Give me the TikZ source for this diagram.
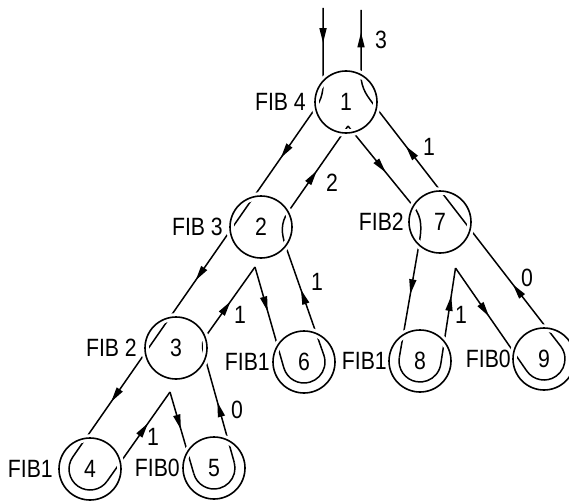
\documentclass[tikz,border=0pt]{standalone}
\usepackage{fontspec}
\setmainfont{Liberation Sans}[FakeStretch=0.85]
\usetikzlibrary{arrows.meta,decorations.markings,calc}
\pgfdeclarelayer{bg}
\pgfsetlayers{bg,main}
\begin{document}
\begin{tikzpicture}[x=1pt,y=1pt,
  every node/.style={font=\fontsize{25}{25}\selectfont, inner sep=0pt},
  circ/.style={circle, draw, line width=1.6pt, minimum size=62pt, inner sep=0pt,
               preaction={draw=white, line width=7.5pt}},
  fib/.style={anchor=east},
  wire/.style={line width=1.5pt},
  midarrow/.style={postaction={decorate, decoration={markings,
      mark=at position #1 with {\arrow{Triangle[length=15pt,width=7pt]}}}}}
]
\useasboundingbox (0,0) rectangle (569,-500);

% recursion nodes
\node[circ] (n1) at (346,-102) {1};
\node[circ] (n2) at (261,-227) {2};
\node[circ] (n7) at (440,-222) {7};
\node[circ] (n3) at (176,-348) {3};
\node[circ] (n6) at (304,-362) {6};
\node[circ] (n8) at (420,-361) {8};
\node[circ] (n9) at (544,-359) {9};
\node[circ] (n4) at (90,-469) {4};
\node[circ] (n5) at (214,-468) {5};

% free ends and junctions
\coordinate (topL) at (323,-8);
\coordinate (topR) at (361,-10);
\coordinate (a1) at (348,-126);
\coordinate (a2) at (255,-267);
\coordinate (a3) at (170,-392);
\coordinate (a7) at (455.5,-268);

\begin{pgfonlayer}{bg}
\begin{scope}[wire]
% call chain down the left spine
\draw[midarrow=0.48] (topL) -- ($(n1)+(137.6:31)$);
\draw ($(n1)+(137.6:31)$) to[out=-90,in=55.2] ($(n1)+(191:31)$);
\draw[midarrow=0.143, midarrow=0.494, midarrow=0.842] ($(n1)+(191:31)$) -- ($(n4)+(145:21)$);
\draw ($(n4)+(145:21)$) arc[start angle=145, end angle=325, radius=21];
\draw[midarrow=0.65] ($(n4)+(325:21)$) -- (a3);
\draw[midarrow=0.46] (a3) -- ($(n5)+(195.2:21)$);
\draw ($(n5)+(195.2:21)$) arc[start angle=195.2, end angle=375.5, radius=21];
\draw[midarrow=0.58] ($(n5)+(15.5:21)$) -- ($(n3)+(-19.5:31)$);
\draw ($(n3)+(-19.5:31)$) to[out=105.6,in=234.5] ($(n3)+(20.4:31)$);
\draw[midarrow=0.51] ($(n3)+(20.4:31)$) -- (a2);
\draw[midarrow=0.44] (a2) -- ($(n6)+(196.3:21)$);
\draw ($(n6)+(196.3:21)$) arc[start angle=196.3, end angle=379.3, radius=21];
\draw[midarrow=0.60] ($(n6)+(19.3:21)$) -- ($(n2)+(-37.5:31)$);
\draw ($(n2)+(-37.5:31)$) to[out=109.3,in=235.1] ($(n2)+(29.1:31)$);
\draw[midarrow=0.48] ($(n2)+(29.1:31)$) -- (a1);
% right subtree
\draw[midarrow=0.58] (a1) -- ($(n7)+(149.4:31)$);
\draw ($(n7)+(149.4:31)$) to[out=309.2,in=80.1] ($(n7)+(227.1:31)$);
\draw[midarrow=0.44] ($(n7)+(227.1:31)$) -- ($(n8)+(170.1:21)$);
\draw ($(n8)+(170.1:21)$) arc[start angle=170.1, end angle=351.3, radius=21];
\draw[midarrow=0.71] ($(n8)+(351.3:21)$) -- (a7);
\draw[midarrow=0.47] (a7) -- ($(n9)+(214.7:21)$);
\draw ($(n9)+(214.7:21)$) arc[start angle=214.7, end angle=397.7, radius=21];
\draw[midarrow=0.259, midarrow=0.840] ($(n9)+(37.7:21)$) -- ($(n1)+(348.8:31)$);
\draw ($(n1)+(348.8:31)$) to[out=127.7,in=-90] ($(n1)+(61:31)$);
\draw[midarrow=0.655] ($(n1)+(61:31)$) -- (topR);
\end{scope}
\end{pgfonlayer}

% FIB labels
\node[fib] (f1) at ($(n1)+(-40,0)$) {FIB 4};
\node[fib] (f2) at ($(n2)+(-38,0)$) {FIB 3};
\node[fib] (f7) at ($(n7)+(-36,0)$) {FIB2};
\node[fib] (f3) at ($(n3)+(-39,0)$) {FIB 2};
\node[fib] (f6) at ($(n6)+(-34,0)$) {FIB1};
\node[fib] (f8) at ($(n8)+(-33,0)$) {FIB1};
\node[fib] (f9) at ($(n9)+(-33,0)$) {FIB0};
\node[fib] (f4) at ($(n4)+(-37,0)$) {FIB1};
\node[fib] (f5) at ($(n5)+(-34,0)$) {FIB0};

% returned values
\node (r1) at (381,-40) {3};
\node (r2) at (332,-183) {2};
\node (r7) at (429,-147) {1};
\node (r3) at (240,-315) {1};
\node (r6) at (317,-282) {1};
\node (r8) at (461,-315) {1};
\node (r9) at (527,-278) {0};
\node (r4) at (153,-437) {1};
\node (r5) at (237,-410) {0};
\end{tikzpicture}
\end{document}
